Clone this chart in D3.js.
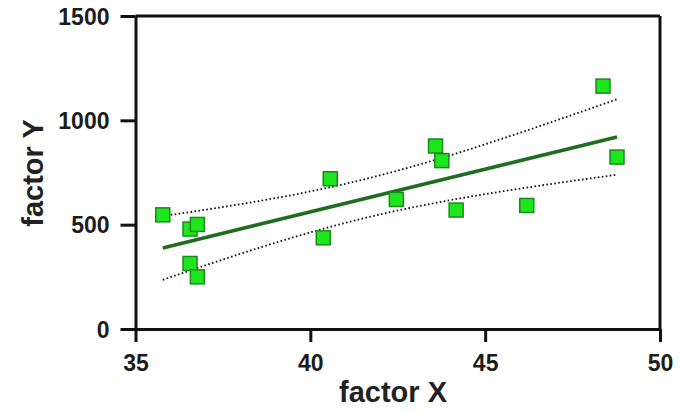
<!DOCTYPE html>
<html>
<head>
<meta charset="utf-8">
<script src="https://cdn.jsdelivr.net/npm/d3@7/dist/d3.min.js"></script>
<style>
html,body{margin:0;padding:0;background:#fff;}
svg{display:block;}
.tick text{font-family:"Liberation Sans",Arial,sans-serif;font-weight:bold;font-size:23px;fill:#1c1c1c;}
</style>
</head>
<body>
<svg id="chart" width="685" height="412"></svg>
<script>
// Data
const factorX = [35.78, 36.56, 36.77, 36.56, 36.77, 40.37, 40.57, 42.46, 43.58, 43.76, 44.17, 46.19, 48.37, 48.77];
const factorY = [547, 479, 501, 314, 250, 437, 720, 621, 877, 807, 570, 592, 1164, 824];
const xTicks = [35, 40, 45, 50];
const yTicks = [0, 500, 1000, 1500];
const xTitle = "factor X";
const yTitle = "factor Y";
const tCrit = 2.179; // t(0.975, df=12)

const svg = d3.select("#chart");
const x = d3.scaleLinear().domain([35, 50]).range([135.5, 660]);
const y = d3.scaleLinear().domain([0, 1500]).range([329, 16]);

// Linear regression with 95% confidence band
const n = factorX.length;
const mx = d3.mean(factorX), my = d3.mean(factorY);
let sxx = 0, sxy = 0;
for (let i = 0; i < n; i++) { sxx += (factorX[i]-mx)**2; sxy += (factorX[i]-mx)*(factorY[i]-my); }
const slope = sxy / sxx, icpt = my - slope * mx;
let ssr = 0;
for (let i = 0; i < n; i++) { ssr += (factorY[i] - (icpt + slope*factorX[i]))**2; }
const s = Math.sqrt(ssr / (n - 2));
const [xmin, xmax] = d3.extent(factorX);
const samples = d3.range(0, 41).map(k => xmin + (xmax - xmin) * k / 40);
const fit = v => icpt + slope * v;
const hw = v => tCrit * s * Math.sqrt(1/n + (v - mx)**2 / sxx);

const line = d3.line().x(d => x(d[0])).y(d => y(d[1]));

svg.append("path")
  .attr("d", line(samples.map(v => [v, fit(v) + hw(v)])))
  .attr("fill", "none").attr("stroke", "#111").attr("stroke-width", 1.8)
  .attr("stroke-dasharray", "1.6,2.4");
svg.append("path")
  .attr("d", line(samples.map(v => [v, fit(v) - hw(v)])))
  .attr("fill", "none").attr("stroke", "#111").attr("stroke-width", 1.8)
  .attr("stroke-dasharray", "1.6,2.4");
svg.append("path")
  .attr("d", line([[xmin, fit(xmin)], [xmax, fit(xmax)]]))
  .attr("fill", "none").attr("stroke", "#1f6e1f").attr("stroke-width", 3.5);

// Frame (top and right)
svg.append("line").attr("x1", x(35)).attr("x2", x(50)).attr("y1", y(1500)).attr("y2", y(1500))
  .attr("stroke", "#111").attr("stroke-width", 3);
svg.append("line").attr("x1", x(50)).attr("x2", x(50)).attr("y1", y(1500)).attr("y2", y(0))
  .attr("stroke", "#111").attr("stroke-width", 3);

// Axes
const xAxis = svg.append("g").attr("transform", `translate(0,${y(0)})`)
  .call(d3.axisBottom(x).tickValues(xTicks).tickFormat(d3.format("d")).tickSize(13).tickSizeOuter(0).tickPadding(13));
const yAxis = svg.append("g").attr("transform", `translate(${x(35)},0)`)
  .call(d3.axisLeft(y).tickValues(yTicks).tickFormat(d3.format("d")).tickSize(15).tickSizeOuter(0).tickPadding(11));
[xAxis, yAxis].forEach(g => {
  g.select(".domain").attr("stroke", "#111").attr("stroke-width", 3);
  g.selectAll(".tick line").attr("stroke", "#111").attr("stroke-width", 3);
});
yAxis.selectAll(".tick text").attr("dy", "0.36em");

// Markers
const sz = 14;
svg.append("g").selectAll("rect").data(factorX.map((v, i) => [v, factorY[i]])).join("rect")
  .attr("x", d => x(d[0]) - sz/2).attr("y", d => y(d[1]) - sz/2)
  .attr("width", sz).attr("height", sz)
  .attr("fill", "#1ee61e").attr("stroke", "#1a8a1a").attr("stroke-width", 1.5);

// Titles
svg.append("text").attr("x", 393).attr("y", 402).attr("text-anchor", "middle")
  .style("font-family", "'Liberation Sans',Arial,sans-serif").style("font-weight", "bold")
  .style("font-size", "29px").attr("fill", "#222").text(xTitle);
svg.append("text").attr("transform", "translate(43,173) rotate(-90)").attr("text-anchor", "middle")
  .style("font-family", "'Liberation Sans',Arial,sans-serif").style("font-weight", "bold")
  .style("font-size", "29px").attr("fill", "#222").text(yTitle);
</script>
</body>
</html>
